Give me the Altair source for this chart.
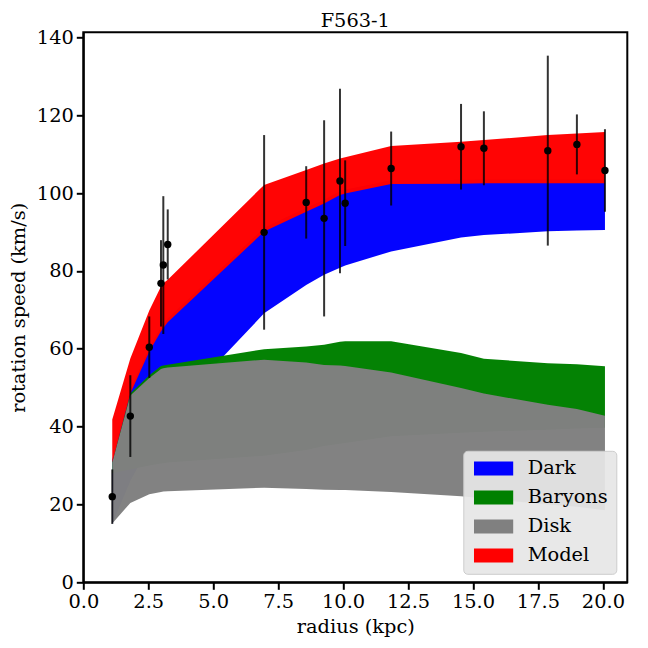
import altair as alt
import pandas as pd

# ---- data ----
radius = [1.115, 1.81, 2.54, 2.99, 3.08, 3.25, 6.96, 8.58, 9.27, 9.88, 10.08,
          11.85, 14.54, 15.42, 17.88, 19.0, 20.08]
vel = [22.0, 42.7, 60.4, 76.8, 81.5, 86.8, 89.9, 97.6, 93.5, 103.1, 97.4,
       106.3, 111.9, 111.5, 110.9, 112.5, 105.8]
err = [7.0, 10.5, 7.9, 11.1, 17.7, 9.0, 25.0, 9.3, 25.2, 23.7, 11.0,
       9.5, 11.0, 9.5, 24.4, 7.7, 10.6]

model_lo = [30.8, 48.5, 59.3, 64.5, 65.3, 66.8, 90.1, 95.2, 97.3, 99.5, 99.9,
            102.3, 102.4, 102.5, 102.5, 102.5, 102.5]
model_hi = [41.8, 57.5, 69.8, 76.0, 76.8, 77.7, 102.1, 105.9, 107.6, 108.9, 109.2,
            112.1, 113.2, 113.6, 114.9, 115.3, 115.7]
dark_lo = [15.0, 26.0, 35.0, 40.5, 41.5, 43.0, 69.1, 76.4, 79.0, 80.8, 81.4,
           85.0, 88.6, 89.2, 90.2, 90.4, 90.5]
dark_hi = [31.5, 49.5, 60.3, 65.5, 66.3, 67.8, 91.1, 96.2, 98.3, 100.5, 100.9,
           103.3, 103.4, 103.5, 103.5, 103.5, 103.5]
bary_lo = [28.0, 29.0, 30.0, 30.5, 30.6, 30.8, 32.5, 34.0, 35.0, 35.6, 35.8,
           37.5, 38.4, 38.7, 39.2, 39.5, 39.7]
bary_hi = [31.0, 48.5, 53.2, 55.6, 55.7, 55.9, 59.9, 60.6, 61.0, 61.8, 61.9,
           61.9, 58.9, 57.4, 56.3, 56.0, 55.5]
disk_lo = [15.1, 20.4, 22.6, 23.2, 23.3, 23.4, 24.3, 24.0, 23.8, 23.7, 23.7,
           23.2, 22.1, 21.5, 20.0, 19.4, 18.5]
disk_hi = [30.8, 48.0, 52.5, 54.8, 55.0, 55.2, 57.2, 56.5, 55.8, 55.7, 55.6,
           53.9, 49.9, 48.5, 45.6, 44.5, 42.8]

components = ["Dark", "Baryons", "Disk", "Model"]
colors = ["#0000ff", "#008000", "#808080", "#ff0000"]
x_ticks = [0, 2.5, 5, 7.5, 10, 12.5, 15, 17.5, 20]
y_ticks = [0, 20, 40, 60, 80, 100, 120, 140]

# ---- tables ----
band_src = {"Dark": (dark_lo, dark_hi), "Baryons": (bary_lo, bary_hi),
            "Disk": (disk_lo, disk_hi), "Model": (model_lo, model_hi)}
rows = []
for name in components:
    lo, hi = band_src[name]
    for r, a, b in zip(radius, lo, hi):
        rows.append({"radius": r, "lo": a, "hi": b, "comp": name})
bands = pd.DataFrame(rows)
pts = pd.DataFrame({"radius": radius, "v": vel,
                    "vlo": [v - e for v, e in zip(vel, err)],
                    "vhi": [v + e for v, e in zip(vel, err)]})

FONT = "DejaVu Serif"
FS = 19.4

xs = alt.Scale(domain=[0, 20.94], nice=False, zero=False)
ys = alt.Scale(domain=[0, 141.3], nice=False, zero=False)

x_axis = alt.Axis(values=x_ticks, format=".1f", title="radius (kpc)", labelFlush=False)
y_axis = alt.Axis(values=y_ticks, format="d", title="rotation speed (km/s)", labelFlush=False)

color = alt.Color(
    "comp:N",
    scale=alt.Scale(domain=components, range=colors),
    legend=alt.Legend(
        title=None, orient="none", legendX=380, legendY=418.5,
        symbolType="M-1,-1L4.6,-1L4.6,1L-1,1Z", symbolSize=196,
        symbolStrokeWidth=0, symbolOpacity=1,
        labelFont=FONT, labelFontSize=FS, labelColor="black", labelOffset=37,
        padding=8, rowPadding=8,
        fillColor="rgba(230,230,230,0.93)", strokeColor="#cccccc",
        cornerRadius=4,
    ),
)

layers = []
for name in components:
    layers.append(
        alt.Chart(bands)
        .transform_filter(alt.datum.comp == name)
        .mark_area(opacity=0.985, interpolate="linear")
        .encode(
            x=alt.X("radius:Q", scale=xs, axis=x_axis),
            y=alt.Y("lo:Q", scale=ys, axis=y_axis),
            y2="hi:Q",
            color=color,
        )
    )

errbars = alt.Chart(pts).mark_rule(color="black", opacity=0.8, strokeWidth=2).encode(
    x=alt.X("radius:Q", scale=xs, axis=x_axis),
    y=alt.Y("vlo:Q", scale=ys, axis=y_axis),
    y2="vhi:Q",
)
points = alt.Chart(pts).mark_circle(color="black", opacity=1, size=55).encode(
    x=alt.X("radius:Q", scale=xs, axis=x_axis),
    y=alt.Y("v:Q", scale=ys, axis=y_axis),
)

chart = (
    alt.layer(*layers, errbars, points)
    .properties(
        width=544, height=550,
        title=alt.TitleParams("F563-1", font=FONT, fontSize=FS, fontWeight="normal",
                              color="black", offset=2, dy=6, frame="group"),
        padding={"left": 75.3, "top": 24.3, "right": 12, "bottom": 60},
        autosize=alt.AutoSizeParams(type="none"),
    )
    .configure_view(stroke="black", strokeWidth=2)
    .configure_axis(
        grid=False, domainColor="black", domainWidth=2, tickColor="black",
        tickWidth=2, tickSize=7, labelFont=FONT, labelFontSize=FS,
        labelColor="black", titleFont=FONT, titleFontSize=FS,
        titleFontWeight="normal", titleColor="black", labelPadding=3,
    )
    .configure_axisX(titlePadding=7)
    .configure_axisY(titlePadding=8)
)

chart.save("out.html", embed_options={"renderer": "svg", "actions": False})
